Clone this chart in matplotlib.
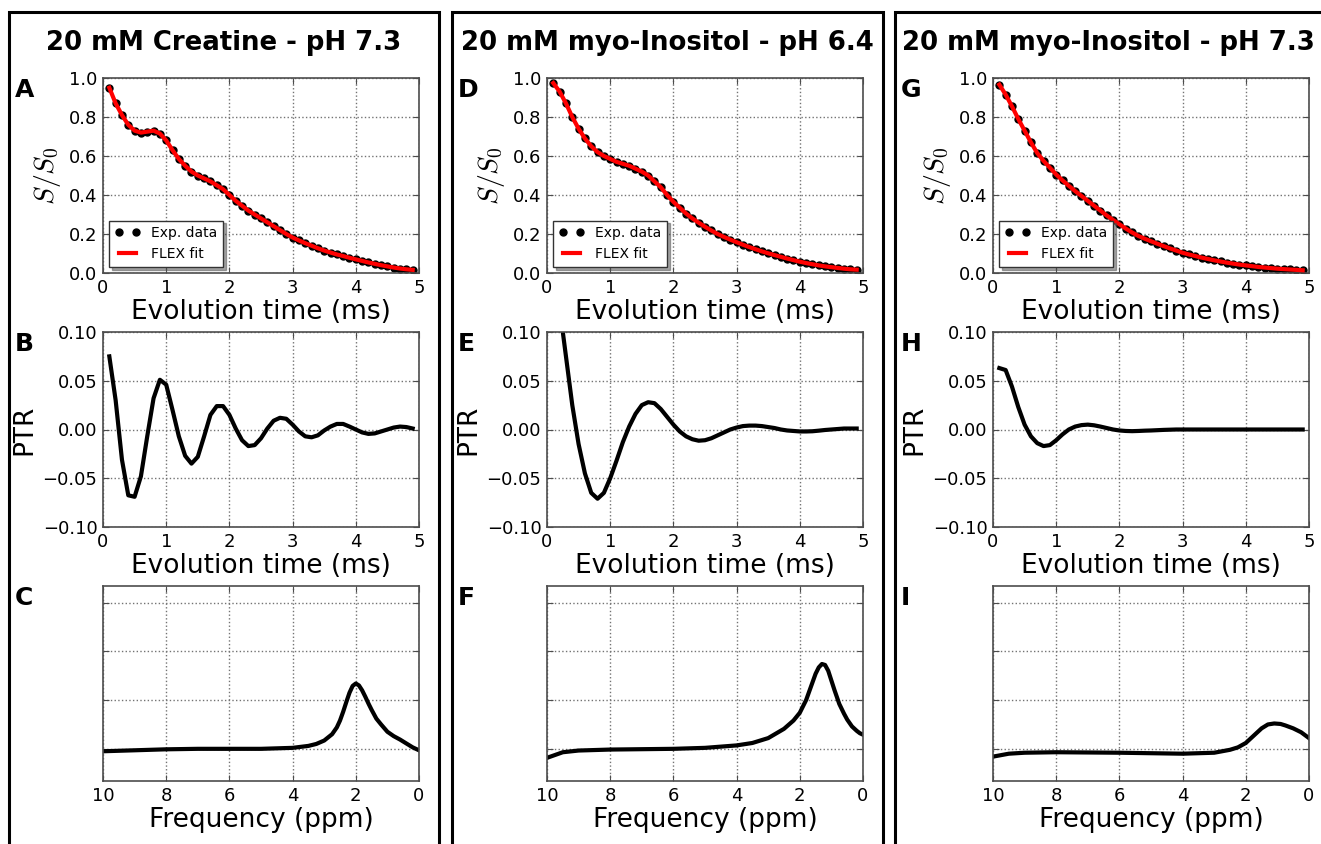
#NMR FLEX fits, PTR and spectra for three samples
import numpy as np
import matplotlib.pyplot as plt
from matplotlib.patches import Rectangle

plt.rcParams['font.family'] = ['DejaVu Sans']
plt.rcParams['mathtext.fontset'] = 'cm'

#Panel titles and letters
titles = ["20 mM Creatine - pH 7.3", "20 mM myo-Inositol - pH 6.4", "20 mM myo-Inositol - pH 7.3"]
letters = [["A", "B", "C"], ["D", "E", "F"], ["G", "H", "I"]]

#Evolution time (ms)
evo_time = [0.1, 0.2, 0.3, 0.4, 0.5, 0.6, 0.7, 0.8, 0.9, 1.0,
            1.1, 1.2, 1.3, 1.4, 1.5, 1.6, 1.7, 1.8, 1.9, 2.0,
            2.1, 2.2, 2.3, 2.4, 2.5, 2.6, 2.7, 2.8, 2.9, 3.0,
            3.1, 3.2, 3.3, 3.4, 3.5, 3.6, 3.7, 3.8, 3.9, 4.0,
            4.1, 4.2, 4.3, 4.4, 4.5, 4.6, 4.7, 4.8, 4.9]

#S/S0 (Exp. data, FLEX fit drawn through them)
signal_A = [0.95, 0.87, 0.81, 0.76, 0.73, 0.72, 0.725, 0.73, 0.715, 0.68,
            0.63, 0.585, 0.55, 0.52, 0.50, 0.485, 0.47, 0.45, 0.43, 0.40,
            0.37, 0.345, 0.32, 0.30, 0.28, 0.26, 0.24, 0.22, 0.20, 0.182,
            0.167, 0.153, 0.14, 0.127, 0.115, 0.105, 0.095, 0.087, 0.078, 0.07,
            0.062, 0.054, 0.047, 0.04, 0.034, 0.028, 0.023, 0.019, 0.016]
signal_D = [0.974, 0.93, 0.87, 0.80, 0.74, 0.69, 0.65, 0.62, 0.60, 0.585,
            0.57, 0.56, 0.55, 0.535, 0.52, 0.50, 0.47, 0.44, 0.40, 0.365,
            0.335, 0.305, 0.28, 0.258, 0.237, 0.218, 0.20, 0.185, 0.171, 0.158,
            0.145, 0.133, 0.122, 0.111, 0.101, 0.092, 0.083, 0.074, 0.066, 0.058,
            0.051, 0.045, 0.039, 0.034, 0.03, 0.026, 0.022, 0.019, 0.017]
signal_G = [0.966, 0.915, 0.855, 0.79, 0.73, 0.67, 0.615, 0.575, 0.54, 0.505,
            0.475, 0.447, 0.42, 0.395, 0.37, 0.345, 0.32, 0.295, 0.272, 0.25,
            0.228, 0.208, 0.19, 0.176, 0.163, 0.15, 0.138, 0.126, 0.115, 0.104,
            0.095, 0.087, 0.079, 0.072, 0.065, 0.059, 0.053, 0.048, 0.043, 0.039,
            0.035, 0.031, 0.028, 0.025, 0.022, 0.02, 0.018, 0.016, 0.014]

#PTR curves
ptr_B = [0.075, 0.03, -0.031, -0.0675, -0.069, -0.048, -0.007, 0.032, 0.051, 0.046,
         0.02, -0.007, -0.027, -0.035, -0.028, -0.007, 0.015, 0.024, 0.024, 0.015,
         0.001, -0.011, -0.017, -0.016, -0.009, 0.001, 0.009, 0.012, 0.011, 0.005,
         -0.002, -0.007, -0.008, -0.006, -0.001, 0.003, 0.0057, 0.0057, 0.003, 0.0,
         -0.003, -0.0045, -0.004, -0.002, 0.0, 0.002, 0.003, 0.0025, 0.001]
ptr_E = [0.17, 0.125, 0.075, 0.025, -0.015, -0.045, -0.065, -0.071, -0.065, -0.05,
         -0.032, -0.013, 0.003, 0.016, 0.025, 0.028, 0.027, 0.021, 0.013, 0.005,
         -0.002, -0.007, -0.010, -0.0115, -0.011, -0.009, -0.006, -0.003, 0.0, 0.002,
         0.0035, 0.004, 0.004, 0.0035, 0.0025, 0.0015, 0.0, -0.001, -0.0015, -0.002,
         -0.002, -0.0018, -0.0012, -0.0005, 0.0, 0.0005, 0.001, 0.001, 0.001]
ptr_H = [0.063, 0.061, 0.044, 0.023, 0.005, -0.007, -0.014, -0.017, -0.016, -0.011,
         -0.005, 0.0, 0.003, 0.0045, 0.005, 0.0043, 0.003, 0.0015, 0.0, -0.001,
         -0.0015, -0.0017, -0.0015, -0.0012, -0.001, -0.0007, -0.0004, -0.0002, 0.0, 0.0,
         0.0, 0.0, 0.0, 0.0, 0.0, 0.0, 0.0, 0.0, 0.0, 0.0,
         0.0, 0.0, 0.0, 0.0, 0.0, 0.0, 0.0, 0.0, 0.0]

#Spectra (frequency in ppm, arbitrary units)
freq_C = [10, 9, 8, 7, 6, 5, 4.0, 3.5, 3.25, 3.0, 2.75, 2.6, 2.5, 2.4, 2.3, 2.2, 2.1, 2.0,
          1.9, 1.8, 1.7, 1.6, 1.5, 1.35, 1.2, 1.0, 0.8, 0.6, 0.4, 0.2, 0]
spec_C = [-0.05, -0.03, -0.01, 0.0, 0.0, 0.0, 0.02, 0.06, 0.1, 0.17, 0.30, 0.44, 0.58, 0.76, 0.96, 1.15, 1.29, 1.34,
          1.3, 1.2, 1.07, 0.93, 0.8, 0.62, 0.5, 0.35, 0.26, 0.19, 0.11, 0.03, -0.03]
freq_F = [10, 9.5, 9, 8, 6, 5, 4, 3.5, 3.0, 2.5, 2.2, 2.0, 1.8, 1.6, 1.5, 1.4, 1.3, 1.2, 1.1, 1.0,
          0.9, 0.75, 0.6, 0.5, 0.35, 0.2, 0.1, 0]
spec_F = [-0.185, -0.07, -0.035, -0.015, 0.0, 0.02, 0.07, 0.12, 0.22, 0.41, 0.58, 0.74, 1.0, 1.36, 1.54, 1.67, 1.74, 1.72, 1.6, 1.4,
          1.2, 0.92, 0.72, 0.6, 0.46, 0.37, 0.32, 0.29]
freq_I = [10, 9.5, 9, 8, 6, 4, 3, 2.5, 2.25, 2.0, 1.75, 1.5, 1.3, 1.1, 0.9, 0.75, 0.5, 0.25, 0]
spec_I = [-0.16, -0.1, -0.08, -0.07, -0.08, -0.1, -0.08, -0.02, 0.03, 0.12, 0.27, 0.42, 0.5, 0.52, 0.51, 0.48, 0.42, 0.34, 0.22]

signals = [signal_A, signal_D, signal_G]
ptrs = [ptr_B, ptr_E, ptr_H]
freqs = [freq_C, freq_F, freq_I]
specs = [spec_C, spec_F, spec_I]

W, H = 1321, 844
fig = plt.figure(figsize=(W / 100, H / 100), dpi=100)

col_left = [103, 547, 993]
row_top = [78, 332, 586]
ax_w, ax_h = 316, 195
box_left = [9, 452, 895]
box_right = [439, 883, 1330]
title_x = [224, 667, 1108]


def style_axes(ax):
    ax.grid(True, linestyle=':', color='0.45', linewidth=1)
    ax.tick_params(direction='in', top=True, right=True, length=4, color='0.3', labelsize=13, pad=4)
    for s in ax.spines.values():
        s.set_color('0.3')
        s.set_linewidth(1.2)


for c in range(3):
    #Frame around each sample column
    fig.patches.append(Rectangle((box_left[c] / W, 1 - 880 / H), (box_right[c] - box_left[c]) / W, (880 - 12) / H,
                                 transform=fig.transFigure, fill=False, edgecolor='black', linewidth=2.2, clip_on=False))
    fig.text(title_x[c] / W, 1 - 43 / H, titles[c],
             fontsize=18.7, fontweight='bold', ha='center', va='center')

    axes = []
    for r in range(3):
        ax = fig.add_axes([col_left[c] / W, 1 - (row_top[r] + ax_h) / H, ax_w / W, ax_h / H])
        axes.append(ax)
        fig.text((box_left[c] + 6) / W, 1 - (row_top[r] + 12) / H, letters[c][r],
                 fontsize=18, fontweight='heavy', ha='left', va='center')

    #Signal decay with fit
    ax = axes[0]
    ax.plot(evo_time, signals[c], 'o', color='black', markersize=5, label='Exp. data', zorder=2)
    ax.plot(evo_time, signals[c], '-', color='red', linewidth=3, label='FLEX fit', zorder=3,
            solid_joinstyle='round')
    ax.set_xlim(0, 5)
    ax.set_ylim(0, 1)
    ax.set_yticks([0.0, 0.2, 0.4, 0.6, 0.8, 1.0])
    ax.set_xlabel("Evolution time (ms)", fontsize=19, labelpad=2)
    ax.set_ylabel("$S/S_0$", fontsize=20)
    style_axes(ax)
    leg = ax.legend(loc='lower left', numpoints=2, fontsize=10, fancybox=False, shadow=True,
                    framealpha=1, edgecolor='0.2', handlelength=1.8, borderaxespad=0.45)

    #PTR
    ax = axes[1]
    ax.plot(evo_time, ptrs[c], color='black', linewidth=3, solid_joinstyle='round')
    ax.set_xlim(0, 5)
    ax.set_ylim(-0.1, 0.1)
    ax.set_yticks([-0.10, -0.05, 0.00, 0.05, 0.10])
    ax.set_yticklabels(["\u22120.10", "\u22120.05", "0.00", "0.05", "0.10"])
    ax.set_xlabel("Evolution time (ms)", fontsize=19, labelpad=2)
    ax.set_ylabel("PTR", fontsize=19)
    style_axes(ax)

    #Spectrum
    ax = axes[2]
    ax.plot(freqs[c], specs[c], color='black', linewidth=3, solid_joinstyle='round')
    ax.set_xlim(10, 0)
    ax.set_ylim(-0.66, 3.34)
    ax.set_yticks([0, 1, 2, 3])
    ax.set_yticklabels([])
    ax.set_xticks([10, 8, 6, 4, 2, 0])
    ax.set_xlabel("Frequency (ppm)", fontsize=19, labelpad=2)
    style_axes(ax)

fig.savefig('out.png', dpi=100)
